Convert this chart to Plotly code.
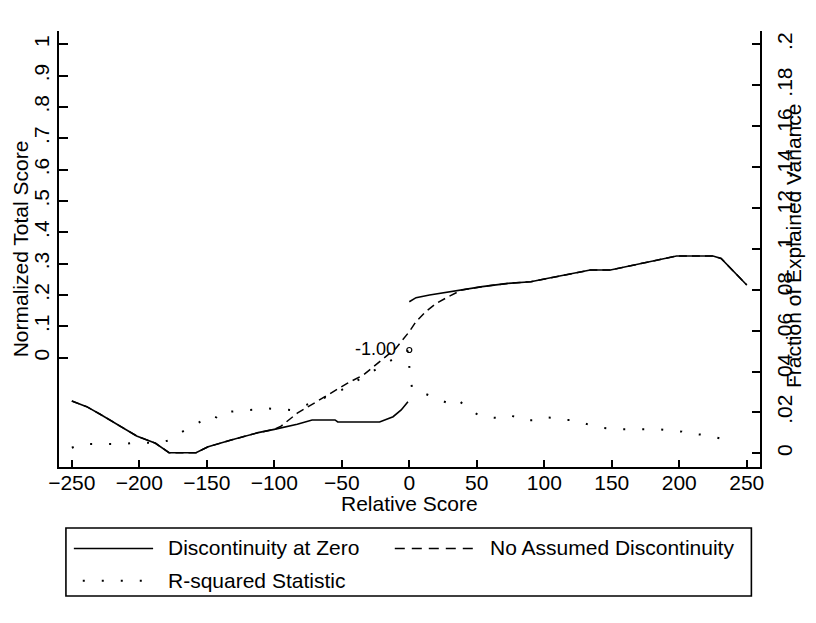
import plotly.graph_objects as go

# ---------------- data ----------------
# Discontinuity at Zero (fraction of explained variance), left and right of the cutoff
disc_left_x = [-250, -239, -229, -217, -202, -188, -178, -158, -149, -132, -112, -100,
               -83, -72, -55, -53, -22, -12, -6, -1]
disc_left_y = [0.0256, 0.0228, 0.0191, 0.0142, 0.0085, 0.0049, 0.0003, 0.0003, 0.0032,
               0.0065, 0.0101, 0.0117, 0.0142, 0.0163, 0.0163, 0.0153, 0.0153, 0.0179,
               0.0212, 0.0252]
disc_right_x = [0, 5, 15, 25, 39, 54, 73, 90, 100, 120, 134, 149, 166, 186, 198, 225, 231, 250]
disc_right_y = [0.0741, 0.0761, 0.0774, 0.0785, 0.0799, 0.0815, 0.0831, 0.0839, 0.0852,
                0.0877, 0.0896, 0.0896, 0.0921, 0.0950, 0.0965, 0.0965, 0.0953, 0.0823]

# No Assumed Discontinuity
nodisc_x = [-250, -239, -229, -217, -202, -188, -178, -158, -149, -132, -112, -100,
            -95, -83, -71, -58, -46, -34, -22, -10, 0, 5, 12, 20, 29, 39,
            54, 73, 90, 100, 120, 134, 149, 166, 186, 198, 225, 231, 250]
nodisc_y = [0.0256, 0.0228, 0.0191, 0.0142, 0.0085, 0.0049, 0.0003, 0.0003, 0.0032,
            0.0065, 0.0101, 0.0117, 0.0133, 0.0196, 0.0244, 0.0297, 0.0342, 0.0383,
            0.0448, 0.0513, 0.0595, 0.0644, 0.0692, 0.0733, 0.0766, 0.0799,
            0.0815, 0.0831, 0.0839, 0.0852, 0.0877, 0.0896, 0.0896, 0.0921, 0.0950,
            0.0965, 0.0965, 0.0953, 0.0823]

# R-squared statistic
rsq_x = [-250, -243, -236, -226, -212, -201, -197, -187, -177, -172, -168, -160, -147,
         -143, -141, -112, -107, -88, -70, -50, -30, -12, 0, 0, 2, 17, 20, 28, 32, 37,
         39, 44, 55, 59, 66, 70, 76, 84, 96, 101, 112, 117, 122, 139, 156, 171, 186,
         202, 205, 220, 230, 241]
rsq_y = [0.0027, 0.0045, 0.0045, 0.0045, 0.0045, 0.0053, 0.0053, 0.0049, 0.0065, 0.0089,
         0.0106, 0.0133, 0.0187, 0.0176, 0.0199, 0.0215, 0.0220, 0.0212, 0.0250, 0.0310,
         0.0390, 0.0460, 0.0505, 0.0424, 0.0318, 0.0277, 0.0269, 0.0245, 0.0236, 0.0256,
         0.0245, 0.0212, 0.0176, 0.0176, 0.0171, 0.0171, 0.0184, 0.0160, 0.0163, 0.0176,
         0.0171, 0.0163, 0.0163, 0.0127, 0.0117, 0.0117, 0.0117, 0.0106, 0.0098, 0.0089,
         0.0073, 0.0073]

# labelled marker at the cutoff
mark_x = [0]
mark_y = [0.0505]
mark_text = ["-1.00"]

# tick labels
x_ticks = [-250, -200, -150, -100, -50, 0, 50, 100, 150, 200, 250]
left_tickvals = [0, 0.1, 0.2, 0.3, 0.4, 0.5, 0.6, 0.7, 0.8, 0.9, 1]
left_ticktext = ["0", ".1", ".2", ".3", ".4", ".5", ".6", ".7", ".8", ".9", "1"]
right_tickvals = [0, 0.02, 0.04, 0.06, 0.08, 0.1, 0.12, 0.14, 0.16, 0.18, 0.2]
right_ticktext = ["0", ".02", ".04", ".06", ".08", ".1", ".12", ".14", ".16", ".18", ".2"]

legend_names = ["Discontinuity at Zero", "No Assumed Discontinuity", "R-squared Statistic"]
x_title = "Relative Score"
y_title = "Normalized Total Score"
y2_title = "Fraction of Explained Variance"

# ---------------- layout geometry ----------------
# the page body has an 8px margin, so the figure is 16px smaller and offset by 8px
OFF = 8
W, H = 816 - 2 * OFF, 623 - 2 * OFF
# plot area in page pixels
PL, PR, PT, PB = 59, 766.7, 31, 467
FONT = "Liberation Sans, Arial, Helvetica, sans-serif"
FS = 21


def xp(px):
    return (px - PL) / (PR - PL)


def yp(py):
    return (PB - py) / (PB - PT)


fig = go.Figure()

# dummy trace so the left axis is drawn
fig.add_trace(go.Scatter(x=[None], y=[None], yaxis="y", showlegend=False, hoverinfo="skip"))

fig.add_trace(go.Scatter(
    x=nodisc_x, y=nodisc_y, yaxis="y2", mode="lines", name=legend_names[1],
    line=dict(color="black", width=1.5, dash="8px,5px"), showlegend=False))

fig.add_trace(go.Scatter(
    x=disc_left_x + [None] + disc_right_x, y=disc_left_y + [None] + disc_right_y,
    yaxis="y2", mode="lines", name=legend_names[0], connectgaps=False,
    line=dict(color="black", width=1.6), showlegend=False))

fig.add_trace(go.Scatter(
    x=rsq_x, y=rsq_y, yaxis="y2", mode="lines", name=legend_names[2],
    line=dict(color="black", width=2, dash="2px,17px"), showlegend=False))

fig.add_trace(go.Scatter(
    x=mark_x, y=mark_y, yaxis="y2", mode="markers",
    marker=dict(symbol="circle-open", size=5, color="black", line=dict(width=1.2)),
    showlegend=False))

axis_common = dict(showgrid=False, zeroline=False, showline=True, linecolor="black",
                   linewidth=1.6, ticks="inside", tickcolor="black", tickwidth=1.6,
                   tickfont=dict(family=FONT, size=FS, color="black"))

fig.update_layout(
    width=W, height=H,
    margin=dict(l=PL - OFF, r=W - (PR - OFF), t=PT - OFF, b=H - (PB - OFF), pad=0),
    paper_bgcolor="white", plot_bgcolor="white",
    font=dict(family=FONT, size=FS, color="black"),
    xaxis=dict(range=[-259.5, 259.8], tickvals=x_ticks, ticklen=7,
               ticklabelstandoff=-4, **axis_common),
    yaxis=dict(range=[-0.3488, 1.0424], tickvals=left_tickvals, ticktext=left_ticktext,
               ticklen=9, tickangle=-90, **axis_common),
    yaxis2=dict(range=[-0.0067, 0.2065], tickvals=right_tickvals, ticktext=right_ticktext,
                ticklen=8, tickangle=-90, overlaying="y", side="right", anchor="x",
                ticklabelstandoff=5, **axis_common),
    showlegend=False,
)

# ---------------- legend box drawn to match the reference ----------------
shapes = [
    dict(type="rect", xref="paper", yref="paper", x0=xp(66), x1=xp(758), y0=yp(596), y1=yp(528),
         line=dict(color="black", width=1.6), fillcolor="rgba(0,0,0,0)"),
    dict(type="line", xref="paper", yref="paper", x0=xp(74), x1=xp(154), y0=yp(548.5), y1=yp(548.5),
         line=dict(color="black", width=1.6)),
    dict(type="line", xref="paper", yref="paper", x0=xp(398), x1=xp(480), y0=yp(548.5), y1=yp(548.5),
         line=dict(color="black", width=1.6, dash="10px,7px")),
    dict(type="line", xref="paper", yref="paper", x0=xp(83), x1=xp(153), y0=yp(580.7), y1=yp(580.7),
         line=dict(color="black", width=2, dash="2px,17px")),
]
txt = dict(family=FONT, size=FS, color="black")
annotations = [
    # axis titles
    dict(xref="paper", yref="paper", x=0.5, y=yp(503), text=x_title, showarrow=False,
         xanchor="center", yanchor="middle", font=txt),
    dict(xref="paper", yref="paper", x=xp(20), y=0.5, text=y_title, showarrow=False,
         textangle=-90, xanchor="center", yanchor="middle", font=txt),
    dict(xref="paper", yref="paper", x=xp(800), y=yp(246), text=y2_title, showarrow=False,
         textangle=-90, xanchor="center", yanchor="middle", font=txt),
    # marker label
    dict(xref="x", yref="y2", x=mark_x[0], y=mark_y[0], text=mark_text[0], showarrow=False,
         xanchor="right", yanchor="middle", xshift=-11, yshift=1,
         font=dict(family=FONT, size=18, color="black")),
    # legend entries
    dict(xref="paper", yref="paper", x=xp(167), y=yp(547.5), text=legend_names[0], showarrow=False,
         xanchor="left", yanchor="middle", font=txt),
    dict(xref="paper", yref="paper", x=xp(492), y=yp(547.5), text=legend_names[1], showarrow=False,
         xanchor="left", yanchor="middle", font=txt),
    dict(xref="paper", yref="paper", x=xp(167), y=yp(580.5), text=legend_names[2], showarrow=False,
         xanchor="left", yanchor="middle", font=txt),
]
fig.update_layout(shapes=shapes, annotations=annotations)

fig.write_html("out.html")
